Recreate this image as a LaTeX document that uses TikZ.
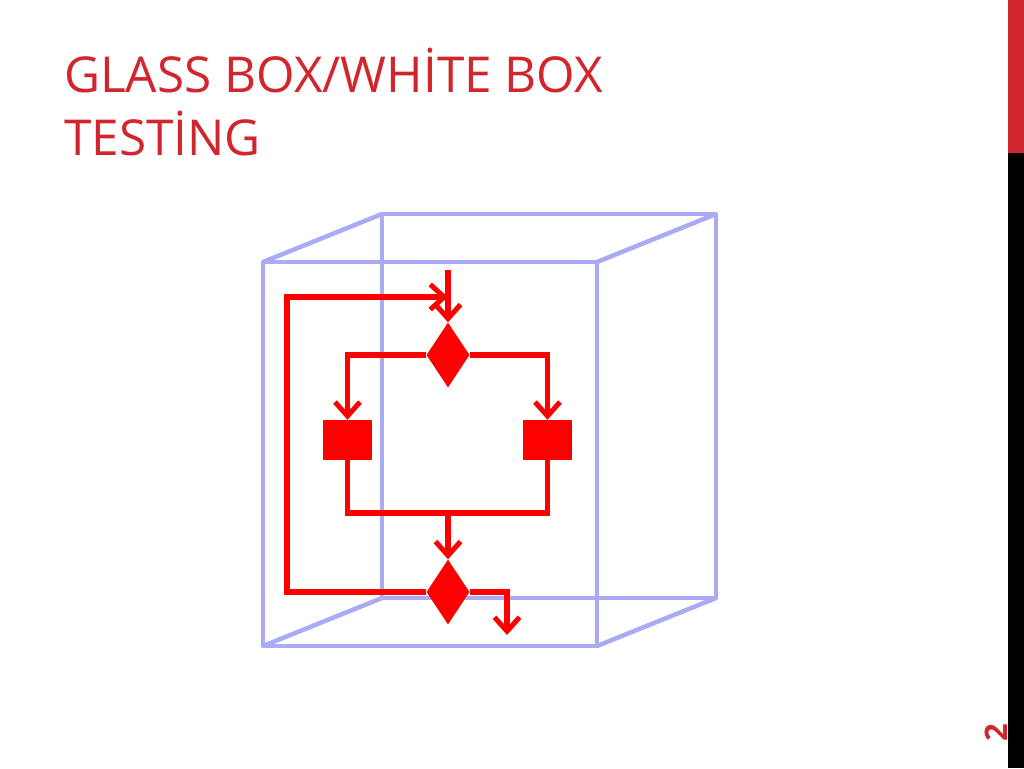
\documentclass[tikz,border=0pt]{standalone}
\usepackage{fontspec}
\setmainfont{Open Sans}
\usetikzlibrary{shapes.geometric,arrows.meta}
\definecolor{slidered}{RGB}{210,38,46}
\definecolor{glassblue}{RGB}{170,170,245}
\definecolor{flowred}{RGB}{255,0,0}
\tikzset{
  glass/.style={draw=glassblue, line width=4.5pt, line join=round},
  flow/.style={draw=flowred, line width=5.5pt, -{Straight Barb[length=14pt,width=25pt,line width=5pt]}},
  link/.style={draw=flowred, line width=5.5pt},
  decision/.style={diamond, fill=flowred, inner sep=0pt, minimum width=43pt, minimum height=65pt},
  process/.style={rectangle, fill=flowred, inner sep=0pt, minimum width=49pt, minimum height=40pt}
}
\begin{document}
\begin{tikzpicture}[x=1pt,y=-1pt]
  \useasboundingbox (0,0) rectangle (1024,768);
  \fill [white] (0,0) rectangle (1024,768);
  % side bar and page number
  \fill [slidered] (1008,0) rectangle (1024,153);
  \fill [black] (1008,153) rectangle (1024,768);
  \node [rotate=90, text=slidered, font=\bfseries\fontsize{31}{31}\selectfont] (pageno) at (996,733) {2};
  % title
  \node [anchor=base west, align=left, inner sep=0pt, text=slidered,
         font=\fontsize{49.5}{63}\selectfont] (title) at (64,155) {GLASS BOX/WHİTE BOX\\TESTİNG};
  % the glass cube
  \draw [glass] (382,214) rectangle (716,598);
  \draw [glass] (263,262) -- (382,214);
  \draw [glass] (597,262) -- (716,214);
  \draw [glass] (597,646) -- (716,598);
  \draw [glass] (263,646) -- (382,598);
  \draw [glass] (263,262) rectangle (597,646);
  % flow inside
  \node [decision] (d1) at (448,355) {};
  \node [process] (p1) at (347.5,440) {};
  \node [process] (p2) at (547.5,440) {};
  \node [decision] (d2) at (448,592) {};
  \coordinate (in) at (448,270);
  \coordinate (join) at (448,513);
  \coordinate (loop) at (287,297);
  \coordinate (out) at (507,635);
  \draw [flow] (in) -- (d1.north);
  \draw [flow] (d1.west) -| (p1.north);
  \draw [flow] (d1.east) -| (p2.north);
  \draw [link] (p1.south) |- (join) -| (p2.south);
  \draw [flow] (join) -- (d2.north);
  \draw [flow] (d2.west) -| (loop) -- (in |- loop);
  \draw [flow] (d2.east) -| (out);
\end{tikzpicture}
\end{document}
